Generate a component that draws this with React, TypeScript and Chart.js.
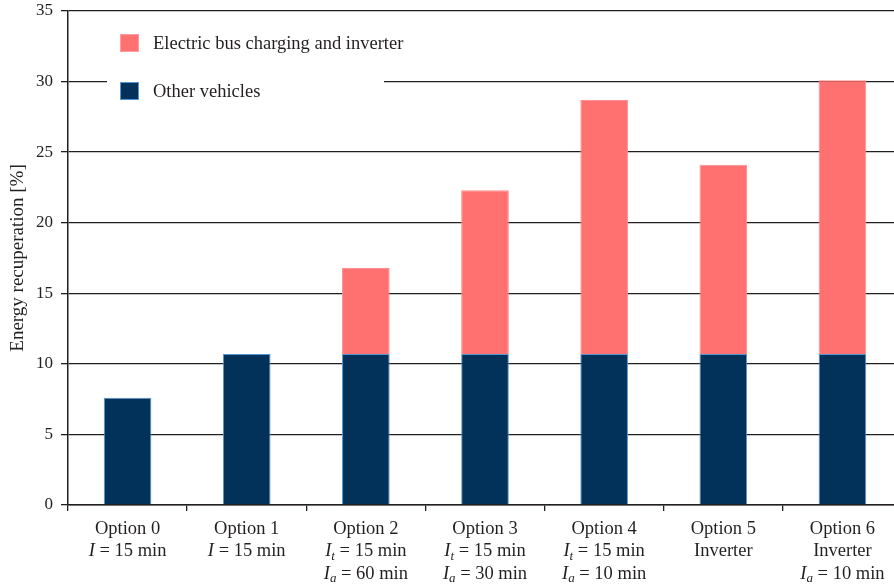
import React, { useEffect, useRef } from "react";
import { Chart, registerables } from "chart.js";

Chart.register(...registerables);

const categories = ["Option 0", "Option 1", "Option 2", "Option 3", "Option 4", "Option 5", "Option 6"];
const labelLine2 = ["I = 15 min", "I = 15 min", "I_t = 15 min", "I_t = 15 min", "I_t = 15 min", "Inverter", "Inverter"];
const labelLine3 = ["", "", "I_a = 60 min", "I_a = 30 min", "I_a = 10 min", "", "I_a = 10 min"];
const otherVehicles = [7.6, 10.7, 10.7, 10.7, 10.7, 10.7, 10.7];
const electricBus = [0, 0, 6.1, 11.6, 18.0, 13.4, 19.4];
const yTickValues = [0, 5, 10, 15, 20, 25, 30, 35];
const seriesNames = ["Electric bus charging and inverter", "Other vehicles"];
const yTitle = "Energy recuperation [%]";

const SERIF = "'Liberation Serif', 'DejaVu Serif', serif";
const INK = "#231f20";
const BLUE = "#02325a";
const BLUE_EDGE = "#5596d6";
const RED = "#ff7171";

type Seg = { text: string; italic: boolean; sub: boolean };

function parse(line: string): Seg[] {
  if (line.startsWith("I_")) {
    return [
      { text: "I", italic: true, sub: false },
      { text: line[2], italic: true, sub: true },
      { text: line.slice(3), italic: false, sub: false },
    ];
  }
  if (line.startsWith("I ")) {
    return [
      { text: "I", italic: true, sub: false },
      { text: line.slice(1), italic: false, sub: false },
    ];
  }
  return [{ text: line, italic: false, sub: false }];
}

function fontFor(s: Seg, size: number) {
  const sz = s.sub ? Math.round(size * 0.72) : size;
  return `${s.italic ? "italic " : ""}${sz}px ${SERIF}`;
}

function drawRich(ctx: CanvasRenderingContext2D, line: string, cx: number, cy: number, size: number) {
  const segs = parse(line);
  let total = 0;
  const widths = segs.map((s) => {
    ctx.font = fontFor(s, size);
    const w = ctx.measureText(s.text).width;
    total += w;
    return w;
  });
  let x = cx - total / 2;
  segs.forEach((s, i) => {
    ctx.font = fontFor(s, size);
    ctx.fillText(s.text, x, s.sub ? cy + 5 : cy);
    x += widths[i];
  });
}

const richLabels = {
  id: "richLabels",
  afterDraw(chart: any) {
    const ctx: CanvasRenderingContext2D = chart.ctx;
    const xs = chart.scales.x;
    const base = chart.chartArea.bottom;
    ctx.save();
    ctx.fillStyle = INK;
    ctx.textBaseline = "middle";
    ctx.textAlign = "left";
    categories.forEach((c, i) => {
      const x = xs.getPixelForValue(i);
      const lines = [c, labelLine2[i], labelLine3[i]];
      lines.forEach((ln, k) => {
        if (ln) drawRich(ctx, ln, x, base + 24 + k * 22.5, 18.5);
      });
    });
    ctx.restore();
  },
};

const innerLegend = {
  id: "innerLegend",
  afterDraw(chart: any) {
    const ctx: CanvasRenderingContext2D = chart.ctx;
    const { left, top } = chart.chartArea;
    ctx.save();
    ctx.fillStyle = "#ffffff";
    ctx.fillRect(left + 39, top + 14, 277, 90);
    const items = [
      { name: seriesNames[0], fill: RED, edge: "#ff9d9d", y: top + 23 },
      { name: seriesNames[1], fill: BLUE, edge: BLUE_EDGE, y: top + 71 },
    ];
    items.forEach((it) => {
      ctx.fillStyle = it.fill;
      ctx.fillRect(left + 52, it.y, 19, 18);
      ctx.strokeStyle = it.edge;
      ctx.lineWidth = 1;
      ctx.strokeRect(left + 52.5, it.y + 0.5, 18, 17);
      ctx.fillStyle = INK;
      ctx.font = `18.5px ${SERIF}`;
      ctx.textBaseline = "middle";
      ctx.fillText(it.name, left + 85, it.y + 10);
    });
    ctx.restore();
  },
};

export default function App() {
  const ref = useRef<HTMLCanvasElement | null>(null);

  useEffect(() => {
    if (!ref.current) return;
    const chart = new Chart(ref.current, {
      type: "bar",
      data: {
        labels: categories,
        datasets: [
          {
            label: seriesNames[1],
            data: otherVehicles,
            backgroundColor: BLUE,
            borderColor: BLUE_EDGE,
            borderWidth: 1,
            categoryPercentage: 0.8,
            barPercentage: 0.5,
          },
          {
            label: seriesNames[0],
            data: electricBus,
            backgroundColor: RED,
            borderColor: "#ff8f8f",
            borderWidth: 1,
            categoryPercentage: 0.8,
            barPercentage: 0.5,
          },
        ],
      },
      options: {
        animation: false,
        responsive: true,
        maintainAspectRatio: false,
        layout: { padding: { top: 11, right: 0, left: 0, bottom: 0 } },
        plugins: {
          legend: { display: false },
          tooltip: { enabled: false },
        },
        scales: {
          x: {
            stacked: true,
            grid: {
              drawOnChartArea: false,
              drawTicks: true,
              tickLength: 6,
              color: INK,
              lineWidth: 1.3,
            },
            border: { display: true, color: INK, width: 1.5 },
            ticks: { display: false },
            afterFit: (scale: any) => {
              scale.height = 82;
            },
          },
          y: {
            stacked: true,
            min: 0,
            max: 35,
            afterBuildTicks: (scale: any) => {
              scale.ticks = yTickValues.map((v) => ({ value: v }));
            },
            grid: {
              color: INK,
              lineWidth: 1.3,
              tickLength: 7,
            },
            border: { display: true, color: INK, width: 1.5 },
            ticks: {
              color: INK,
              font: { family: SERIF, size: 17 },
              padding: 8,
            },
            title: {
              display: true,
              text: yTitle,
              color: INK,
              font: { family: SERIF, size: 19 },
              padding: { top: 7, bottom: 0 },
            },
            afterFit: (scale: any) => {
              scale.width = 68;
              scale.paddingTop = 0;
              scale.paddingBottom = 0;
            },
          },
        },
      },
      plugins: [richLabels, innerLegend],
    });
    return () => chart.destroy();
  }, []);

  return (
    <div style={{ position: "fixed", left: 0, top: 0, width: 894, height: 587, overflow: "hidden", background: "#fff" }}>
      <div style={{ position: "relative", width: 902, height: 587 }}>
        <canvas ref={ref} />
      </div>
    </div>
  );
}
